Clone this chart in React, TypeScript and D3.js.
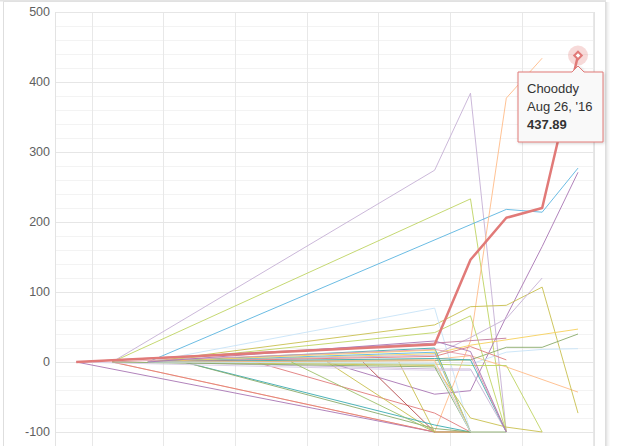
import React from 'react';
import * as d3 from 'd3';

const W = 623;
const H = 446;

// Weekly observation dates (Fridays)
const dates = [
  '2016-05-20', '2016-05-27', '2016-06-03', '2016-06-10', '2016-06-17',
  '2016-06-24', '2016-07-01', '2016-07-08', '2016-07-15', '2016-07-22',
  '2016-07-29', '2016-08-05', '2016-08-12', '2016-08-19', '2016-08-26',
];

// Bi-weekly vertical grid dates
const gridDates = ['2016-05-23', '2016-06-06', '2016-06-20', '2016-07-04', '2016-07-18', '2016-08-01', '2016-08-15', '2016-08-29'];

const yTicks = [-100, 0, 100, 200, 300, 400, 500];
const yMinorTicks = [-80, -60, -40, -20, 20, 40, 60, 80, 120, 140, 160, 180, 220, 240, 260, 280, 320, 340, 360, 380, 420, 440, 460, 480];

const N = null;

const seriesNames = [
  'Lavaro', 'Greeno', 'Bluvia', 'Peachy', 'Peachen', 'Purplo', 'Purplex', 'Olivan',
  'Skylo', 'Skyda', 'Greenly', 'Goldie', 'Lavina', 'Limeo', 'Limera', 'Rubo',
  'Rubex', 'Brickly', 'Olvo', 'Olvix', 'Tealo', 'Greeno2', 'Tealy', 'Bluex',
  'Goldo', 'Mauvy', 'Rosso', 'Lavex', 'Olvera', 'Tealix', 'Pinko', 'Lavly',
  'Peachix', 'Greenix', 'Skyex', 'Purply', 'Greeza', 'Chooddy',
];

const seriesColors = [
  '#c5b0d5', '#bfd463', '#5bb5e0', '#ffbb88', '#ffbb88', '#a876b4', '#a876b4', '#c9c04f',
  '#c8e3f7', '#c8e3f7', '#8aab6a', '#f6d05c', '#c5b0d5', '#bfd463', '#bfd463', '#e07b7b',
  '#e07b7b', '#b5484a', '#c9c04f', '#c9c04f', '#3aabb0', '#8aab6a', '#3aabb0', '#5bb5e0',
  '#f6d05c', '#c27a9c', '#e07b7b', '#c5b0d5', '#c9c04f', '#3aabb0', '#e69aa8', '#d8cce6',
  '#ffbb88', '#8aab6a', '#c8e3f7', '#a876b4', '#9fc06a', '#e17a78',
];

const seriesValues: (number | null)[][] = [
  [N, 0, N, N, N, N, N, N, N, N, 274, 384, -100, N, N],
  [N, 0, N, N, N, N, N, N, N, N, N, 233, -100, N, N],
  [N, N, 0, N, N, N, N, N, N, N, N, N, 218, 214, 277],
  [N, 0, N, N, N, N, N, N, N, N, -100, 30, 377, 434, N],
  [N, N, 0, N, N, N, N, N, N, N, 4, 9, -7, N, -43],
  [0, N, N, N, N, N, N, N, N, N, -100, -100, N, N, N],
  [N, N, N, N, N, N, N, 0, N, N, -46, -41, 65, 165, 271],
  [N, N, 0, N, N, N, N, N, N, N, 53, 79, 81, 107, -73],
  [N, N, 0, N, N, N, N, N, N, N, 77, -100, N, N, N],
  [N, N, 0, N, N, N, N, N, N, N, -4, -3, 14, 18, 19],
  [N, N, 0, N, N, N, N, N, N, N, 2, 3, 21, 21, 40],
  [N, N, 0, N, N, N, N, N, N, N, 12, 24, N, N, 47],
  [N, N, 0, N, N, N, N, N, N, N, 10, 35, 62, 120, N],
  [N, N, 0, N, N, N, N, N, N, N, 42, 66, -100, N, N],
  [N, N, 0, N, N, N, N, N, N, N, -3, -5, -5, -100, N],
  [N, 0, N, N, N, N, N, N, N, N, -100, -100, N, N, N],
  [N, N, N, N, N, 0, N, N, N, N, -73, -100, N, N, N],
  [N, N, N, N, N, N, N, N, 0, N, -100, N, N, N, N],
  [N, N, N, N, N, N, N, N, N, 0, -100, -100, N, N, N],
  [N, N, N, N, N, N, N, 0, N, N, -100, N, N, N, N],
  [N, N, N, 0, N, N, N, N, N, N, -90, -100, N, N, N],
  [N, N, N, 0, N, N, N, N, N, N, -95, -100, -100, N, N],
  [N, N, 0, N, N, N, N, N, N, N, 20, -100, N, N, N],
  [N, N, 0, N, N, N, N, N, N, N, 14, -100, N, N, N],
  [N, N, 0, N, N, N, N, N, N, N, 17, -100, N, N, N],
  [0, N, N, N, N, N, N, N, N, N, 27, N, 34, N, N],
  [N, N, 0, N, N, N, N, N, N, N, 8, 22, 3, N, N],
  [N, N, 0, N, N, N, N, N, N, N, -10, -10, -100, N, N],
  [N, N, 0, N, N, N, N, N, N, N, -5, -80, -93, -100, N],
  [N, N, 0, N, N, N, N, N, N, N, 5, 3, -100, N, N],
  [N, 0, N, N, N, N, N, N, N, N, 18, 9, -100, N, N],
  [0, N, N, N, N, N, N, N, N, N, -12, -12, N, N, N],
  [N, N, 0, N, N, N, N, N, N, N, 2, -100, N, N, N],
  [N, 0, N, N, N, N, N, N, N, N, -7, -100, N, N, N],
  [N, N, 0, N, N, N, N, N, N, N, -2, -100, N, N, N],
  [N, N, 0, N, N, N, N, N, N, N, 30, 15, -100, N, N],
  [N, N, N, N, N, N, 0, N, N, N, -100, N, N, N, N],
  [0, N, N, N, N, N, N, N, N, N, 25, 146, 206, 220, 437.89],
];

const highlightIndex = seriesNames.indexOf('Chooddy');
const highlightDateLabel = "Aug 26, '16";

const parseDate = d3.timeParse('%Y-%m-%d');

export default function App() {
  const left = 55;
  const right = 594;
  const top = 12;
  const bottom = 470;

  const x = d3
    .scaleTime()
    .domain([new Date(2016, 4, 15, 20, 24), new Date(2016, 7, 29, 3, 0)])
    .range([left, right]);
  const y = d3.scaleLinear().domain([-100, 500]).range([432, 12]);

  const parsedDates = dates.map((d) => parseDate(d) as Date);

  const line = d3
    .line<[Date, number]>()
    .x((d) => x(d[0]))
    .y((d) => y(d[1]));

  const paths = seriesValues.map((vals) => {
    const pts: [Date, number][] = [];
    vals.forEach((v, i) => {
      if (v !== null) pts.push([parsedDates[i], v]);
    });
    return line(pts) || '';
  });

  const hv = seriesValues[highlightIndex];
  const lastI = hv.length - 1;
  const hx = x(parsedDates[lastI]);
  const hy = y(hv[lastI] as number);
  const diamond = d3.symbol(d3.symbolSquare, 28)() || '';

  const tipX = 518;
  const tipY = 72;
  const tipW = 85;
  const tipH = 70;
  const red = seriesColors[highlightIndex];

  return (
    <svg
      width={W}
      height={H}
      style={{ position: 'absolute', left: 0, top: 0, background: '#fff' }}
      fontFamily="'Liberation Sans', Arial, sans-serif"
    >
      <defs>
        <clipPath id="plotClip">
          <rect x={0} y={0} width={W} height={H} />
        </clipPath>
        <filter id="tipShadow" x="-20%" y="-20%" width="150%" height="150%">
          <feDropShadow dx="1" dy="1" stdDeviation="1.5" floodColor="#000" floodOpacity="0.18" />
        </filter>
      </defs>

      {/* card frame */}
      <rect x={3.5} y={1.5} width={602} height={H + 10} fill="#fff" stroke="#dedede" strokeWidth={1} />
      <line x1={0} x2={606} y1={0.5} y2={0.5} stroke="#e4e4e4" strokeWidth={2} />
      <line x1={606.5} x2={606.5} y1={2} y2={H} stroke="#000" strokeOpacity={0.1} />
      <line x1={607.5} x2={607.5} y1={2} y2={H} stroke="#000" strokeOpacity={0.06} />
      <line x1={608.5} x2={608.5} y1={2} y2={H} stroke="#000" strokeOpacity={0.035} />
      <line x1={609.5} x2={609.5} y1={2} y2={H} stroke="#000" strokeOpacity={0.015} />

      {/* grid */}
      <g shapeRendering="crispEdges">
        {yMinorTicks.map((t) => (
          <line key={'m' + t} x1={left} x2={right} y1={Math.round(y(t)) + 0.5} y2={Math.round(y(t)) + 0.5} stroke="#f3f3f3" />
        ))}
        {gridDates.map((d) => {
          const gx = Math.round(x(parseDate(d) as Date)) + 0.5;
          return <line key={d} x1={gx} x2={gx} y1={top} y2={bottom} stroke="#e8e8e8" />;
        })}
        {yTicks.map((t) => (
          <line key={'t' + t} x1={left} x2={right} y1={Math.round(y(t)) + 0.5} y2={Math.round(y(t)) + 0.5} stroke="#e6e6e6" />
        ))}
        <line x1={left + 0.5} x2={left + 0.5} y1={top} y2={bottom} stroke="#e3e3e3" />
        <line x1={right + 0.5} x2={right + 0.5} y1={top} y2={bottom} stroke="#e3e3e3" />
      </g>

      {/* y tick labels */}
      <g fontSize={12.5} fill="#5f5f5f" textAnchor="end">
        {yTicks.map((t) => (
          <text key={t} x={50} y={y(t)} dy="0.35em">
            {t}
          </text>
        ))}
      </g>

      {/* series */}
      <g clipPath="url(#plotClip)" fill="none" strokeLinejoin="round">
        {paths.map((p, i) =>
          i === highlightIndex ? null : (
            <path key={i} d={p} stroke={seriesColors[i]} strokeWidth={1} strokeOpacity={0.9} />
          )
        )}
        <path d={paths[highlightIndex]} stroke={red} strokeWidth={2.5} />
      </g>

      {/* highlighted point */}
      <circle cx={hx} cy={hy} r={10} fill={red} fillOpacity={0.28} />
      <path d={diamond} transform={`translate(${hx},${hy}) rotate(45)`} fill="#fff" stroke={red} strokeWidth={2} />

      {/* tooltip */}
      <g filter="url(#tipShadow)">
        <path
          d={`M${tipX},${tipY} H${hx - 6} L${hx},${tipY - 6} L${hx + 6},${tipY} H${tipX + tipW} V${tipY + tipH} H${tipX} Z`}
          fill="#f9f9f9"
          stroke={red}
          strokeWidth={1}
        />
      </g>
      <g fontSize={13} fill="#333">
        <text x={tipX + 9} y={tipY + 21}>{seriesNames[highlightIndex]}</text>
        <text x={tipX + 9} y={tipY + 38.5}>{highlightDateLabel}</text>
        <text x={tipX + 9} y={tipY + 56.5} fontWeight="bold">
          {d3.format('.2f')(hv[lastI] as number)}
        </text>
      </g>
    </svg>
  );
}
